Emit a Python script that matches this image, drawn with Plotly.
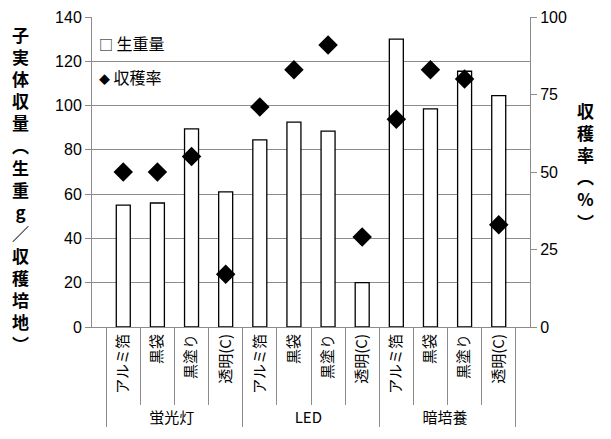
import plotly.graph_objects as go

# data
groups = ["蛍光灯"] * 4 + ["LED"] * 4 + ["暗培養"] * 4
items = ["アルミ箔", "黒袋", "黒塗り", "透明(C)"] * 3
fresh_weight = [55, 56, 89.5, 61, 84.5, 92.5, 88.5, 20, 130, 98.5, 115.5, 104.5]
harvest_rate = [50, 50, 55, 17, 71, 83, 91, 29, 67, 83, 80, 33]

JP = "Noto Sans CJK JP"
NUM = "Liberation Sans"
GRID = "#8c8c8c"

fig = go.Figure()

fig.add_trace(go.Bar(
    x=[groups, items],
    y=fresh_weight,
    name="生重量",
    marker=dict(color="white", line=dict(color="black", width=1.3)),
))

fig.add_trace(go.Scatter(
    x=[groups, items],
    y=harvest_rate,
    name="収穫率",
    mode="markers",
    yaxis="y2",
    marker=dict(symbol="diamond", color="black", size=15),
))

left_title = "<br>".join(list("子実体収量︵生重g／収穫培地︶"))
right_title = "<br>".join(list("収穫率︵%︶"))

# Excel-style legend drawn as text keys
key = '<span style="font-size:{}px">{}</span> '
legend_font = dict(family=JP, size=16, color="black")

fig.update_layout(
    width=611,
    height=439,
    margin=dict(l=92, r=81, t=17, b=112),
    plot_bgcolor="white",
    paper_bgcolor="white",
    bargap=0.59,
    showlegend=False,
    xaxis=dict(
        type="multicategory",
        automargin=False,
        tickangle=-90,
        tickfont=dict(family=JP, size=15, color="black"),
        showline=True, linecolor=GRID, linewidth=1,
        ticks="outside", ticklen=77, tickcolor=GRID,
        showdividers=True, dividercolor=GRID, dividerwidth=1,
    ),
    yaxis=dict(
        range=[0, 140], dtick=20,
        automargin=False,
        showgrid=True, gridcolor=GRID, gridwidth=1,
        showline=True, linecolor=GRID, linewidth=1,
        ticks="outside", ticklen=6, tickcolor=GRID,
        tickfont=dict(family=NUM, size=16, color="black"),
        zeroline=False,
    ),
    yaxis2=dict(
        range=[0, 100], dtick=25,
        automargin=False,
        overlaying="y", side="right",
        showgrid=False,
        showline=True, linecolor=GRID, linewidth=1,
        ticks="outside", ticklen=6, tickcolor=GRID,
        tickfont=dict(family=NUM, size=16, color="black"),
        zeroline=False,
    ),
    annotations=[
        dict(text=left_title, xref="paper", yref="paper", x=-0.164, y=0.445,
             xanchor="center", yanchor="middle", showarrow=False,
             font=dict(family=JP, size=17, color="black", weight="bold")),
        dict(text=right_title, xref="paper", yref="paper", x=1.126, y=0.52,
             xanchor="center", yanchor="middle", showarrow=False,
             font=dict(family=JP, size=17, color="black", weight="bold")),
        dict(text=key.format(14, "□") + "生重量", xref="paper", yref="paper",
             x=0.012, y=0.915, xanchor="left", yanchor="middle",
             showarrow=False, font=legend_font),
        dict(text=key.format(11, "◆") + "収穫率", xref="paper", yref="paper",
             x=0.012, y=0.805, xanchor="left", yanchor="middle",
             showarrow=False, font=legend_font),
    ],
)

# the page body has a default 8px margin; drop it so the figure sits at 0,0
fig.write_html(
    "out.html",
    config={"displayModeBar": False},
    post_script="document.body.style.margin='0';",
)
